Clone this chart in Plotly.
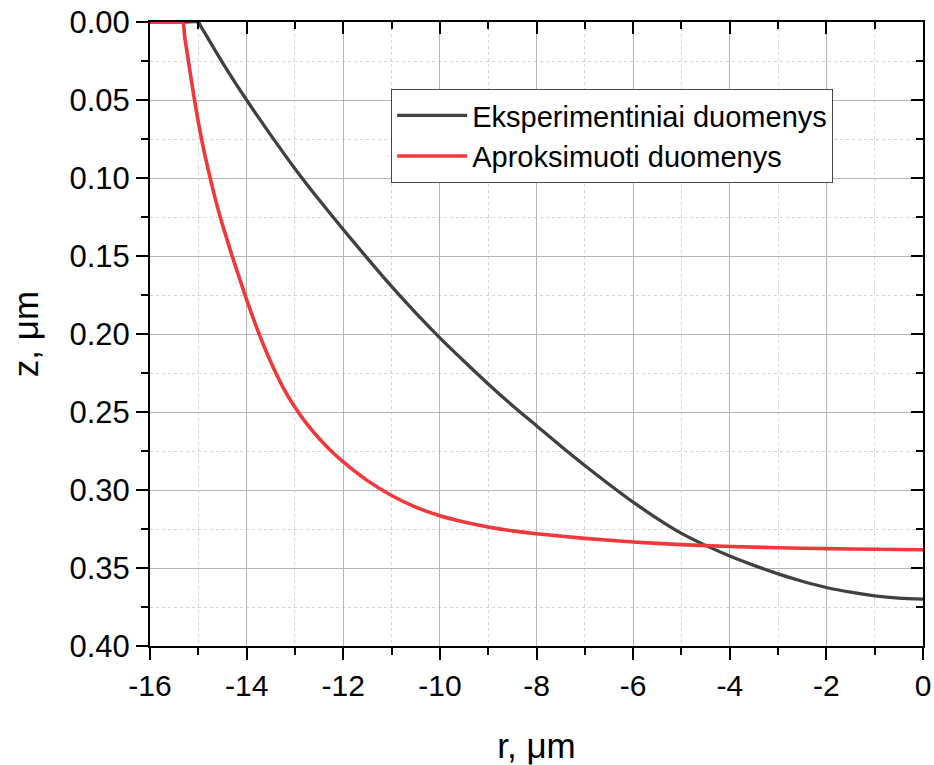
import plotly.graph_objects as go

# Experimental data (black)
r_exp = [-16, -15.3, -15, -14.95, -14.5, -14, -13.5, -13, -12.5, -12, -11.5, -11, -10.5, -10,
         -9.5, -9, -8.5, -8, -7.5, -7, -6.5, -6, -5.5, -5, -4.5, -4, -3.5, -3,
         -2.5, -2, -1.5, -1, -0.5, 0]
z_exp = [0.0, 0.0, 0.0, 0.0026, 0.026, 0.050, 0.0725, 0.094, 0.114, 0.133, 0.1515, 0.1695, 0.1865,
         0.2025, 0.2175, 0.232, 0.2458, 0.2588, 0.2718, 0.2843, 0.2963, 0.3078, 0.3183, 0.3278,
         0.3355, 0.3423, 0.3483, 0.3538, 0.3585, 0.3625, 0.3655, 0.3678, 0.3693, 0.3700]

# Approximated data (red)
r_apx = [-16, -15.5, -15.33, -15.28, -15.2, -15.1, -15.0, -14.9, -14.8, -14.7, -14.6, -14.5,
         -14.4, -14.3, -14.15, -14.0, -13.75, -13.5, -13.25, -13.0, -12.75, -12.5, -12.25,
         -12, -11.5, -11, -10.5, -10, -9.5, -9, -8.5, -8, -7, -6, -5, -4, -3, -2, -1, 0]
z_apx = [0.0, 0.0, 0.0, 0.010, 0.026, 0.046, 0.064, 0.080, 0.094, 0.107, 0.119, 0.130,
         0.140, 0.150, 0.164, 0.178, 0.1993, 0.218, 0.234, 0.247, 0.2578, 0.267, 0.275,
         0.282, 0.294, 0.3035, 0.311, 0.3165, 0.3205, 0.3237, 0.3262, 0.3280, 0.3310,
         0.3333, 0.3350, 0.3362, 0.3370, 0.3376, 0.3380, 0.3383]

names = ["Eksperimentiniai duomenys", "Aproksimuoti duomenys"]
x_title = "r, μm"
y_title = "z, μm"
x_tickvals = [-16, -14, -12, -10, -8, -6, -4, -2, 0]
x_ticktext = ["-16", "-14", "-12", "-10", "-8", "-6", "-4", "-2", "0"]
y_tickvals = [0.0, 0.05, 0.10, 0.15, 0.20, 0.25, 0.30, 0.35, 0.40]
y_ticktext = ["0.00", "0.05", "0.10", "0.15", "0.20", "0.25", "0.30", "0.35", "0.40"]

FONT = "Liberation Sans, Arial, sans-serif"

fig = go.Figure()
fig.add_trace(go.Scatter(x=r_exp, y=z_exp, mode="lines", name=names[0],
                         line=dict(color="#404040", width=3.3, shape="spline", smoothing=0.8)))
fig.add_trace(go.Scatter(x=r_apx, y=z_apx, mode="lines", name=names[1],
                         line=dict(color="#f0383c", width=3.6, shape="spline", smoothing=0.8)))
# empty trace to activate mirrored top/right axes
fig.add_trace(go.Scatter(x=[], y=[], xaxis="x2", yaxis="y2", showlegend=False,
                         hoverinfo="skip"))

common = dict(showline=True, linecolor="black", linewidth=2, zeroline=False,
              tickcolor="black", tickwidth=2, ticklen=12, automargin=False)

fig.update_layout(
    width=934, height=765,
    margin=dict(l=150, r=11, t=22, b=119),
    paper_bgcolor="white", plot_bgcolor="white",
    font=dict(family=FONT, color="black"),
    xaxis=dict(range=[-16, 0], tickmode="array", tickvals=x_tickvals, ticktext=x_ticktext,
               ticks="outside",
               showgrid=True, gridcolor="#b4b4b4", gridwidth=1,
               tickfont=dict(size=30, family=FONT),
               title=dict(text=x_title, font=dict(size=35, family=FONT), standoff=34),
               minor=dict(dtick=1, tick0=0, ticks="outside", ticklen=7, tickcolor="black", tickwidth=2,
                          showgrid=True, gridcolor="#d4d4d4", griddash="dot", gridwidth=1),
               **common),
    yaxis=dict(range=[0.40, 0.0], tickmode="array", tickvals=y_tickvals, ticktext=y_ticktext,
               ticks="outside",
               showgrid=True, gridcolor="#b4b4b4", gridwidth=1,
               tickfont=dict(size=31, family=FONT),
               title=dict(text=y_title, font=dict(size=35, family=FONT), standoff=20),
               minor=dict(dtick=0.025, tick0=0, ticks="outside", ticklen=7, tickcolor="black", tickwidth=2,
                          showgrid=True, gridcolor="#d4d4d4", griddash="dot", gridwidth=1),
               **common),
    xaxis2=dict(range=[-16, 0], overlaying="x", side="top", anchor="y", tick0=0, dtick=2,
                ticks="inside", showticklabels=False, showgrid=False,
                minor=dict(dtick=1, tick0=0, ticks="inside", ticklen=7, tickcolor="black", tickwidth=2),
                **common),
    yaxis2=dict(range=[0.40, 0.0], overlaying="y", side="right", anchor="x", tick0=0, dtick=0.05,
                ticks="inside", showticklabels=False, showgrid=False,
                minor=dict(dtick=0.025, tick0=0, ticks="inside", ticklen=7, tickcolor="black", tickwidth=2),
                **common),
    legend=dict(x=0.312, y=0.8926, xanchor="left", yanchor="top",
                bgcolor="white", bordercolor="#444444", borderwidth=1,
                font=dict(size=29, family=FONT), itemwidth=70,
                tracegroupgap=0),
    showlegend=True,
)

fig.write_html("out.html")
